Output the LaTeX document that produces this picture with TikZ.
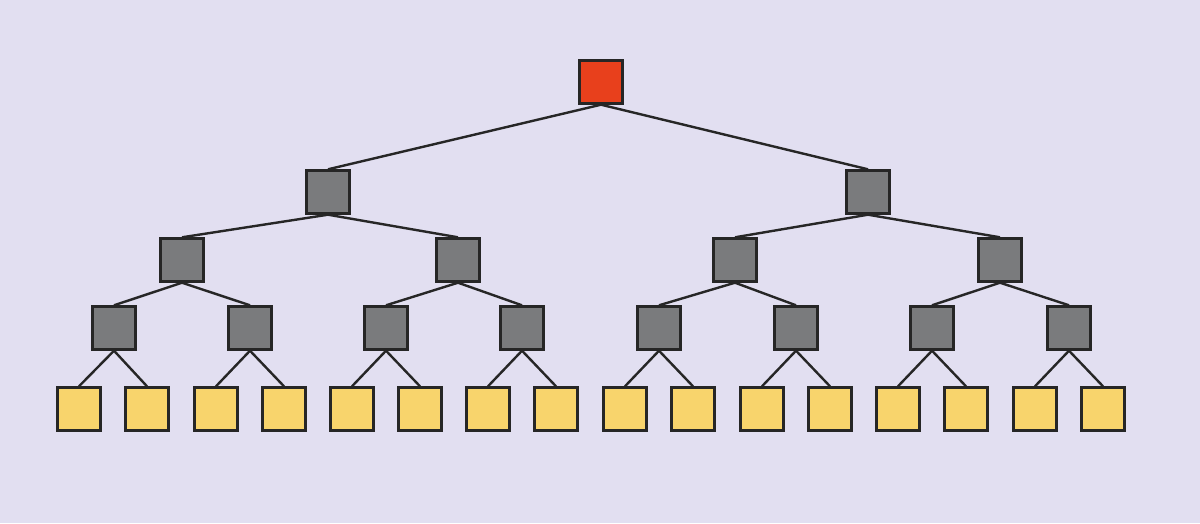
\documentclass[tikz,border=0pt]{standalone}
\definecolor{bg}{HTML}{E2DFF1}
\definecolor{gr}{HTML}{7A7B7D}
\definecolor{rd}{HTML}{E8401C}
\definecolor{yl}{HTML}{F8D46C}
\begin{document}
\begin{tikzpicture}[x=1pt,y=-1pt,
  box/.style={draw=black!85,line width=2.4pt,minimum size=43pt,inner sep=0pt},
  gbox/.style={box,fill=gr}, rbox/.style={box,fill=rd}, ybox/.style={box,fill=yl},
  edge/.style={line width=2.4pt,black!85}]
\fill[bg] (0,0) rectangle (1200,523);
\useasboundingbox (0,0) rectangle (1200,523);
\node[rbox] (r) at (601,82) {};
\node[gbox] (a1) at (328,192) {};
\node[gbox] (a2) at (868,192) {};
\foreach \x [count=\i] in {182,458,735,1000} \node[gbox] (b\i) at (\x,260) {};
\foreach \x [count=\i] in {114,250,386,522,659,796,932,1069} \node[gbox] (c\i) at (\x,328) {};
\foreach \x [count=\i] in {79,147,216,284,352,420,488,556,625,693,762,830,898,966,1035,1103} \node[ybox] (d\i) at (\x,409) {};
\draw[edge] (r.south) -- (a1.north);
\draw[edge] (r.south) -- (a2.north);
\foreach \i in {1,2}{
  \pgfmathtruncatemacro\j{2*\i-1}\pgfmathtruncatemacro\k{2*\i}
  \draw[edge] (a\i.south) -- (b\j.north); \draw[edge] (a\i.south) -- (b\k.north);}
\foreach \i in {1,...,4}{
  \pgfmathtruncatemacro\j{2*\i-1}\pgfmathtruncatemacro\k{2*\i}
  \draw[edge] (b\i.south) -- (c\j.north); \draw[edge] (b\i.south) -- (c\k.north);}
\foreach \i in {1,...,8}{
  \pgfmathtruncatemacro\j{2*\i-1}\pgfmathtruncatemacro\k{2*\i}
  \draw[edge] (c\i.south) -- (d\j.north); \draw[edge] (c\i.south) -- (d\k.north);}
\end{tikzpicture}
\end{document}
